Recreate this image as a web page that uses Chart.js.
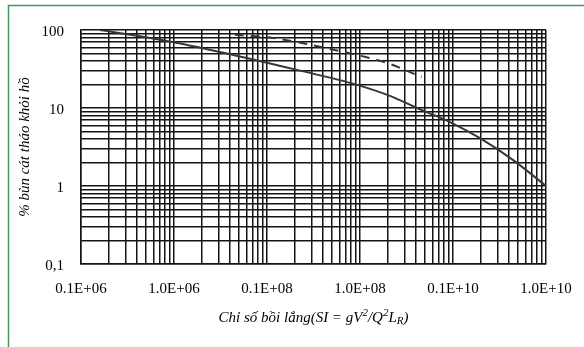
<!DOCTYPE html>
<html>
<head>
<meta charset="utf-8">
<script src="https://cdn.jsdelivr.net/npm/chart.js@4/dist/chart.umd.min.js"></script>
<style>
  html, body { margin: 0; padding: 0; background: #fff; }
  #wrap { width: 584px; height: 347px; }
</style>
</head>
<body>
<div id="wrap"><canvas id="chart" width="584" height="347"></canvas></div>
<script>
// Decade ticks and their labels, as printed on the original figure
const xTickValues = [1e5, 1e6, 1e7, 1e8, 1e9, 1e10];
const xTickLabels = ["0.1E+06", "1.0E+06", "0.1E+08", "1.0E+08", "0.1E+10", "1.0E+10"];
const yTickValues = [0.1, 1, 10, 100];
const yTickLabels = ["0,1", "1", "10", "100"];

// Solid curve
const solidX = [1.6e5, 7.4e5, 3.5e6, 2.1e7, 9.3e7, 2.1e8, 4.1e8, 9.3e8, 1.95e9, 4.4e9, 1e10];
const solidY = [100, 74.5, 50.8, 30.8, 19.8, 14.3, 10, 6.6, 4.1, 2.16, 1.0];
// Dashed curve
const dashedX = [4.5e6, 1.16e7, 2.7e7, 4.75e7, 9.3e7, 1.95e8, 4.6e8];
const dashedY = [87, 79, 66, 57, 47.9, 37.8, 25];

const yTitle = "% bùn cát tháo khỏi hồ";
const curveColor = "rgb(55,55,55)";
const gridColor = "rgb(20,20,20)";
const serif = "'Liberation Serif', 'Times New Roman', serif";

// Grid lines at 1..9 times each decade, like log paper
function logPaperTicks(decades) {
  const ticks = [];
  for (let i = 0; i < decades.length; i++) {
    ticks.push({ value: decades[i] });
    if (i < decades.length - 1) {
      for (let m = 2; m <= 9; m++) ticks.push({ value: decades[i] * m });
    }
  }
  return ticks;
}

function labelFor(values, labels, v) {
  for (let i = 0; i < values.length; i++) {
    if (Math.abs(v - values[i]) / values[i] < 1e-6) return labels[i];
  }
  return "";
}

function toPoints(xs, ys) {
  return xs.map((x, i) => ({ x: x, y: ys[i] }));
}

// Green frame around the figure
const frame = {
  id: "frame",
  beforeDraw(chart) {
    const ctx = chart.ctx;
    ctx.save();
    ctx.strokeStyle = "rgb(70,150,95)";
    ctx.lineWidth = 1.5;
    ctx.strokeRect(8.5, 5.5, 600, 360);
    ctx.restore();
  },
};

// X axis title with super/subscripts
const xTitle = {
  id: "xTitle",
  afterDraw(chart) {
    const ctx = chart.ctx;
    const parts = [
      { t: "Chỉ số bồi lắng(SI = gV", dy: 0, big: true },
      { t: "2", dy: -5, big: false },
      { t: "/Q", dy: 0, big: true },
      { t: "2", dy: -5, big: false },
      { t: "L", dy: 0, big: true },
      { t: "R", dy: 3, big: false },
      { t: ")", dy: 0, big: true },
    ];
    const bigFont = "italic 15px " + serif;
    const smallFont = "italic 11px " + serif;
    ctx.save();
    let total = 0;
    parts.forEach((p) => {
      ctx.font = p.big ? bigFont : smallFont;
      p.w = ctx.measureText(p.t).width;
      total += p.w;
    });
    const cx = (chart.chartArea.left + chart.chartArea.right) / 2;
    let x = cx - total / 2;
    const y = 318;
    ctx.fillStyle = "#000";
    ctx.textBaseline = "middle";
    ctx.textAlign = "left";
    parts.forEach((p) => {
      ctx.font = p.big ? bigFont : smallFont;
      ctx.fillText(p.t, x, y + p.dy);
      x += p.w;
    });
    ctx.restore();
  },
};

const config = {
  type: "line",
  data: {
    datasets: [
      {
        data: toPoints(solidX, solidY),
        borderColor: curveColor,
        borderWidth: 2,
        pointRadius: 0,
        cubicInterpolationMode: "monotone",
      },
      {
        data: toPoints(dashedX, dashedY),
        borderColor: curveColor,
        borderWidth: 2,
        borderDash: [9, 7],
        pointRadius: 0,
        cubicInterpolationMode: "monotone",
      },
    ],
  },
  options: {
    responsive: false,
    animation: false,
    layout: { padding: { left: 12, top: 30, right: 38, bottom: 0 } },
    plugins: {
      legend: { display: false },
      tooltip: { enabled: false },
    },
    scales: {
      x: {
        type: "logarithmic",
        min: 1e5,
        max: 1e10,
        afterBuildTicks: (scale) => { scale.ticks = logPaperTicks(xTickValues); },
        afterFit: (scale) => {
          scale.height = 83;
          scale.paddingRight = 0;
        },
        grid: { color: gridColor, lineWidth: 1.5, drawTicks: false },
        border: { color: gridColor, width: 1.5 },
        ticks: {
          autoSkip: false,
          maxRotation: 0,
          padding: 16,
          color: "#000",
          font: { family: serif, size: 15 },
          callback: (v) => labelFor(xTickValues, xTickLabels, v),
        },
      },
      y: {
        type: "logarithmic",
        min: 0.1,
        max: 100,
        afterBuildTicks: (scale) => { scale.ticks = logPaperTicks(yTickValues); },
        afterFit: (scale) => {
          scale.width = 69;
          scale.paddingTop = 0;
          scale.paddingBottom = 0;
        },
        grid: { color: gridColor, lineWidth: 1.5, drawTicks: false },
        border: { color: gridColor, width: 1.5 },
        title: {
          display: true,
          text: yTitle,
          color: "#000",
          font: { family: serif, size: 15, style: "italic" },
          padding: { top: 4, bottom: 0 },
        },
        ticks: {
          autoSkip: false,
          padding: 17,
          labelOffset: 2,
          color: "#000",
          font: { family: serif, size: 15 },
          callback: (v) => labelFor(yTickValues, yTickLabels, v),
        },
      },
    },
  },
  plugins: [frame, xTitle],
};

new Chart(document.getElementById("chart").getContext("2d"), config);
</script>
</body>
</html>
